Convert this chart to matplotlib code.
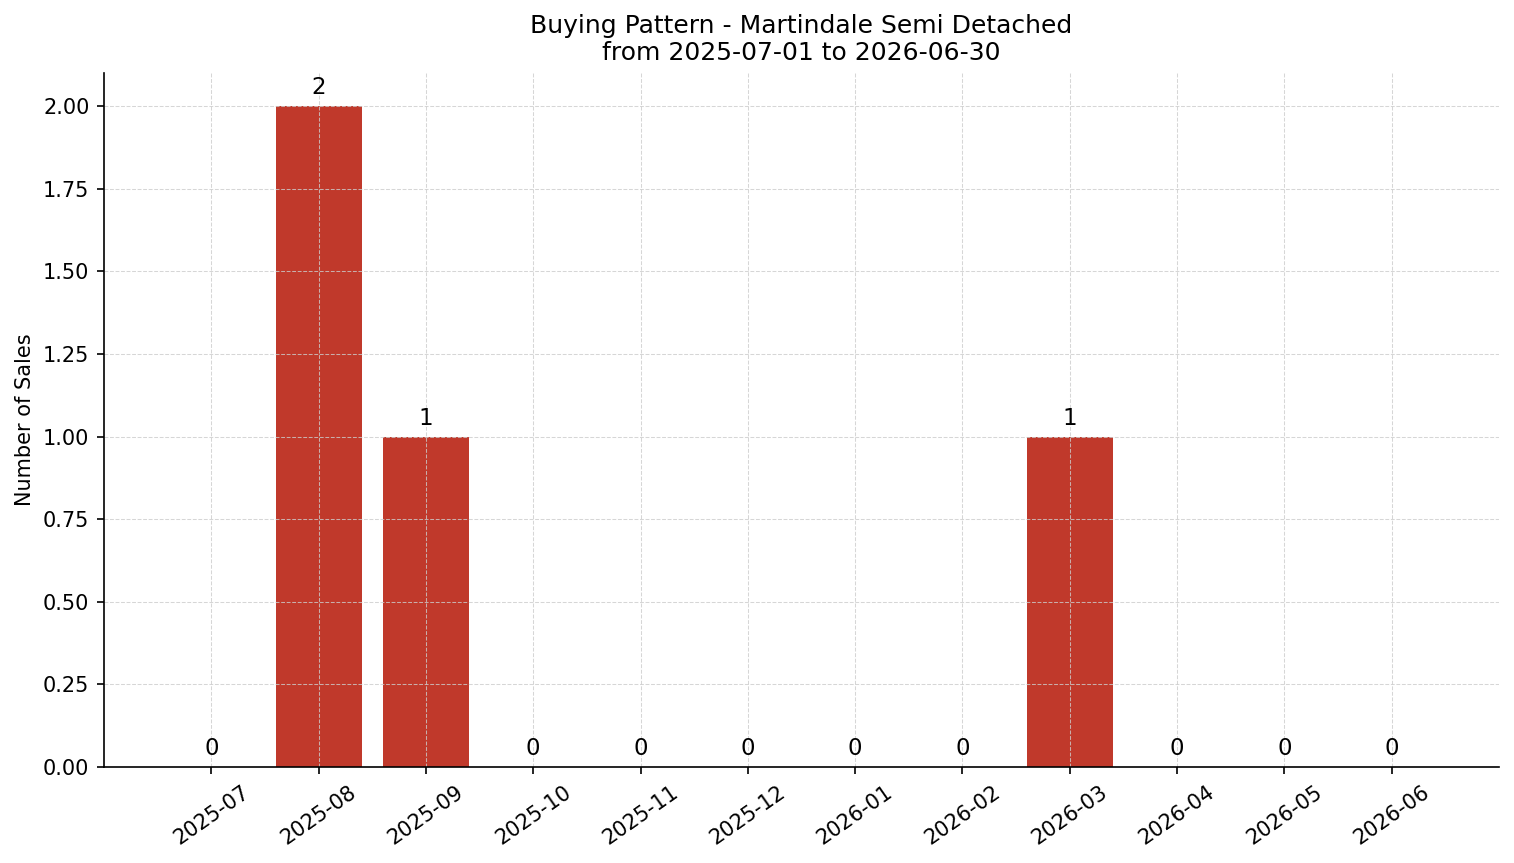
import numpy as np
import matplotlib
matplotlib.use('Agg')
from matplotlib import pyplot as plt

# monthly sales counts
months = ['2025-07', '2025-08', '2025-09', '2025-10', '2025-11', '2025-12',
          '2026-01', '2026-02', '2026-03', '2026-04', '2026-05', '2026-06']
sales = [0, 2, 1, 0, 0, 0, 0, 0, 1, 0, 0, 0]

title = 'Buying Pattern - Martindale Semi Detached\nfrom 2025-07-01 to 2026-06-30'

fig = plt.figure(figsize=(1514/150, 863/150), dpi=150)
ax = fig.add_axes([104/1514, 1-767/863, (1499-104)/1514, (767-73)/863])

x = np.arange(len(months))
bars = ax.bar(x, sales, width=0.8, color='#c0392b')
for xi, v in zip(x, sales):
	ax.text(xi, v + 0.02, str(v), ha='center', va='bottom', fontsize=11)

ax.set_xticks(x)
ax.set_xticklabels(months, rotation=35, fontsize=10)
ax.tick_params(axis='y', labelsize=10)
ax.set_xlim(-1, 12)
ax.set_ylim(0, 2.1)
ax.set_ylabel('Number of Sales', fontsize=10)
ax.set_title(title, fontsize=12)
ax.grid(True, linestyle='--', color='#cccccc', linewidth=0.5, alpha=0.8)
ax.spines['top'].set_visible(False)
ax.spines['right'].set_visible(False)

plt.savefig('out.png', dpi=150)
